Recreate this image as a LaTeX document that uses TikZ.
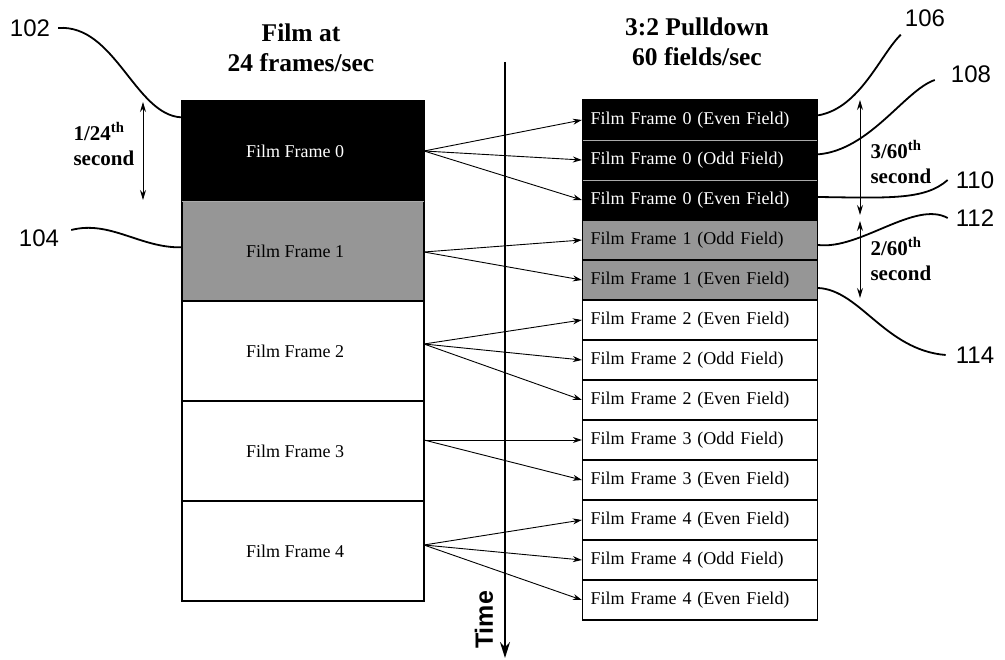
\documentclass[tikz,border=0pt]{standalone}
\usepackage{fontspec}
\setmainfont{Liberation Serif}
\newfontfamily\labelfont{Liberation Sans}
\usetikzlibrary{arrows.meta}
\definecolor{midgray}{RGB}{150,150,150}
\definecolor{sepgray}{RGB}{170,170,170}
\begin{document}
\begin{tikzpicture}[x=1pt,y=-1pt,
  framebox/.style={draw, line width=1.3pt, minimum width=242pt, minimum height=100pt,
    inner sep=0pt, font=\fontsize{18}{20}\selectfont},
  fieldbox/.style={draw, line width=1.3pt, minimum width=235pt, minimum height=40pt,
    text width=219pt, align=left, inner xsep=8pt, inner ysep=0pt,
    font=\fontsize{18}{20}\selectfont},
  darkfill/.style={fill=black, text=white},
  grayfill/.style={fill=midgray},
  conn/.style={-{Stealth[length=9pt,width=6pt]}, line width=0.9pt},
  dblarrow/.style={{Stealth[length=10pt,width=6pt]}-{Stealth[length=10pt,width=6pt]}, line width=1pt},
  lead/.style={line width=1.8pt},
  reflabel/.style={font=\labelfont\fontsize{24}{24}\selectfont, inner sep=2pt},
  titletext/.style={font=\bfseries\fontsize{25.5}{30}\selectfont, align=center},
  timetext/.style={font=\bfseries\fontsize{21}{25}\selectfont, align=left, anchor=west}
]
\useasboundingbox (0,0) rectangle (1005,660);

% titles
\node[titletext] (title1) at (301,48) {Film at\\24 frames/sec};
\node[titletext] (title2) at (697,42) {3:2 Pulldown\\60 fields/sec};

% left column
\node[framebox, darkfill] (f0) at (303,151) {Film Frame 0\kern16pt};
\node[framebox, grayfill] (f1) at (303,251) {Film Frame 1\kern16pt};
\node[framebox] (f2) at (303,351) {Film Frame 2\kern16pt};
\node[framebox] (f3) at (303,451) {Film Frame 3\kern16pt};
\node[framebox] (f4) at (303,551) {Film Frame 4\kern16pt};

% right column
\node[fieldbox, darkfill] (r1) at (700,120) {Film Frame 0 (Even Field)};
\node[fieldbox, darkfill] (r2) at (700,160) {Film Frame 0 (Odd Field)};
\node[fieldbox, darkfill] (r3) at (700,200) {Film Frame 0 (Even Field)};
\node[fieldbox, grayfill] (r4) at (700,240) {Film Frame 1 (Odd Field)};
\node[fieldbox, grayfill] (r5) at (700,280) {Film Frame 1 (Even Field)};
\node[fieldbox] (r6) at (700,320) {Film Frame 2 (Even Field)};
\node[fieldbox] (r7) at (700,360) {Film Frame 2 (Odd Field)};
\node[fieldbox] (r8) at (700,400) {Film Frame 2 (Even Field)};
\node[fieldbox] (r9) at (700,440) {Film Frame 3 (Odd Field)};
\node[fieldbox] (r10) at (700,480) {Film Frame 3 (Even Field)};
\node[fieldbox] (r11) at (700,520) {Film Frame 4 (Even Field)};
\node[fieldbox] (r12) at (700,560) {Film Frame 4 (Odd Field)};
\node[fieldbox] (r13) at (700,600) {Film Frame 4 (Even Field)};
\draw[sepgray, line width=1pt] ([xshift=1pt]r1.south west) -- ([xshift=-1pt]r1.south east);
\draw[sepgray, line width=1pt] ([xshift=1pt]r2.south west) -- ([xshift=-1pt]r2.south east);
\draw[sepgray, line width=1pt] ([xshift=1pt]f0.south west) -- ([xshift=-1pt]f0.south east);

% time axis
\coordinate (ttop) at (505,62);
\coordinate (tbot) at (505,658);
\draw[line width=1.8pt, -{Stealth[length=16pt,width=10pt]}] (ttop) -- (tbot);
\node[rotate=90, font=\labelfont\bfseries\fontsize{25}{25}\selectfont] (timelbl) at (484,620) {Time};

% arrow origins
\coordinate (o0) at (424,151);
\coordinate (o1) at (424,252);
\coordinate (o2) at (424,344);
\coordinate (o3) at (424,440);
\coordinate (o4) at (424,545);

\draw[conn] (o0) -- (r1.west);
\draw[conn] (o0) -- (r2.west);
\draw[conn] (o0) -- (r3.west);
\draw[conn] (o1) -- (r4.west);
\draw[conn] (o1) -- (r5.west);
\draw[conn] (o2) -- (r6.west);
\draw[conn] (o2) -- (r7.west);
\draw[conn] (o2) -- (r8.west);
\draw[conn] (o3) -- (r9.west);
\draw[conn] (o3) -- (r10.west);
\draw[conn] (o4) -- (r11.west);
\draw[conn] (o4) -- (r12.west);
\draw[conn] (o4) -- (r13.west);

% timing annotations
\coordinate (a24t) at (143,102);
\coordinate (a24b) at (143,200);
\draw[dblarrow] (a24t) -- (a24b);
\node[timetext] (s24) at (70,144) {1/24\textsuperscript{th}\\second};

\coordinate (a3t) at (860,100);
\coordinate (a3b) at (860,215);
\draw[dblarrow] (a3t) -- (a3b);
\node[timetext] (s3) at (867,162) {3/60\textsuperscript{th}\\second};

\coordinate (a2t) at (860,221);
\coordinate (a2b) at (860,298);
\draw[dblarrow] (a2t) -- (a2b);
\node[timetext] (s2) at (867,259) {2/60\textsuperscript{th}\\second};

% reference labels
\node[reflabel] (n102) at (30,28) {102};
\node[reflabel] (n104) at (39,238) {104};
\node[reflabel] (n106) at (925,18) {106};
\node[reflabel] (n108) at (971,74) {108};
\node[reflabel] (n110) at (975,180) {110};
\node[reflabel] (n112) at (975,218) {112};
\node[reflabel] (n114) at (975,355) {114};

\draw[lead] ([xshift=6pt]n102.east) .. controls (115,24) and (135,115) .. ([yshift=-17pt]f0.north west);
\draw[lead] ([xshift=10pt,yshift=8pt]n104.east) .. controls (110,220) and (140,248) .. ([yshift=-47pt]f1.north west);
\draw[lead] ([xshift=-2pt,yshift=-6pt]n106.south west) .. controls (880,55) and (860,108) .. ([yshift=-16pt]r1.north east);
\draw[lead] ([xshift=-14pt,yshift=-6pt]n108.west) .. controls (905,90) and (870,150) .. ([yshift=-15pt]r2.north east);
\draw[lead] ([xshift=-6pt]n110.west) .. controls (925,200) and (890,198) .. ([yshift=3pt]r3.east);
\draw[lead] ([xshift=-6pt]n112.west) .. controls (915,200) and (860,250) .. ([yshift=-5pt]r4.east);
\draw[lead] ([xshift=-8pt]n114.west) .. controls (885,350) and (860,290) .. ([yshift=-8pt]r5.east);
\end{tikzpicture}
\end{document}
